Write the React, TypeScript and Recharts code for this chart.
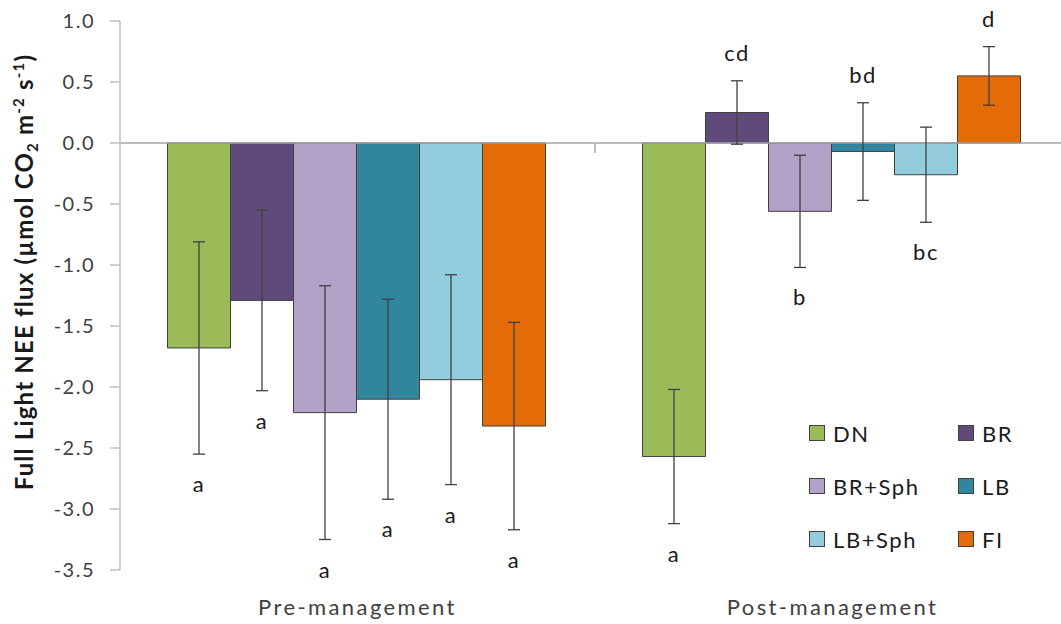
import type { ReactElement } from "react";
import { BarChart, Bar, XAxis, YAxis, ErrorBar, LabelList, ReferenceLine } from "recharts";

const groups = ["Pre-management", "Post-management"];
const treatments = ["DN", "BR", "BR+Sph", "LB", "LB+Sph", "FI"];
const preMean = [-1.68, -1.29, -2.21, -2.1, -1.94, -2.32];
const preErr = [0.87, 0.74, 1.04, 0.82, 0.86, 0.85];
const postMean = [-2.57, 0.25, -0.56, -0.07, -0.26, 0.55];
const postErr = [0.55, 0.26, 0.46, 0.4, 0.39, 0.24];
const preLetters = ["a", "a", "a", "a", "a", "a"];
const postLetters = ["a", "cd", "b", "bd", "bc", "d"];
// whether the letter sits above the error bar
const preLetterAbove = [false, false, false, false, false, false];
const postLetterAbove = [false, true, false, true, false, true];
const yTicks = [1.0, 0.5, 0.0, -0.5, -1.0, -1.5, -2.0, -2.5, -3.0, -3.5];

const COLORS = ["#9bbb59", "#604a7b", "#b3a2c7", "#31859c", "#93cddd", "#e36c09"];
const FONT = "Lato, 'Open Sans', sans-serif";

const W = 1080;
const H = 624;
const MARGIN = { top: 21, right: 10, bottom: 0, left: 0 };
const X_AXIS_H = 54;
const Y_MIN = -3.5;
const Y_MAX = 1;
const PLOT_H = H - MARGIN.top - MARGIN.bottom - X_AXIS_H;

const means = [preMean, postMean];
const errs = [preErr, postErr];
const letters = [preLetters, postLetters];
const above = [preLetterAbove, postLetterAbove];

const data = groups.map((g, gi) => {
    const row: Record<string, string | number | boolean> = { group: g };
    treatments.forEach((t, ti) => {
        row[t] = means[gi][ti];
        row[`${t}_err`] = errs[gi][ti];
        row[`${t}_lt`] = letters[gi][ti];
    });
    return row;
});

// same linear mapping as the y axis (domain -3.5..1 over the plot height)
const toY = (v: number) => MARGIN.top + ((Y_MAX - v) / (Y_MAX - Y_MIN)) * PLOT_H;

function letterRenderer(ti: number) {
    return (props: any) => {
        const { x, width, index, value } = props;
        const m = means[index][ti];
        const e = errs[index][ti];
        const isAbove = above[index][ti];
        const cx = Number(x) + Number(width) / 2;
        const y = isAbove ? toY(m + e) - 20 : toY(m - e) + 38;
        return (
            <text x={cx} y={y} textAnchor="middle" fontSize={22} fontFamily={FONT} fill="#1a1a1a" letterSpacing={1.5}>
                {value}
            </text>
        );
    };
}

function GroupTick(props: any) {
    const { x, y, payload } = props;
    return (
        <text x={x} y={y} dy={37} textAnchor="middle" fontSize={22} fontFamily={FONT} fill="#404040" letterSpacing={2.4}>
            {payload.value}
        </text>
    );
}

function ZeroLine(props: any) {
    const { x1, y1, x2, y2 } = props;
    const mid = (x1 + x2) / 2;
    return (
        <g>
            <line x1={x1} y1={y1} x2={x2} y2={y2} stroke="#a6a6a6" strokeWidth={1.5} />
            <line x1={mid} y1={y1} x2={mid} y2={y1 + 10} stroke="#a6a6a6" strokeWidth={1.5} />
        </g>
    );
}

function YLabel() {
    return (
        <text
            transform="translate(33, 272) rotate(-90)"
            textAnchor="middle"
            fontSize={24}
            fontWeight="bold"
            fontFamily={FONT}
            fill="#1a1a1a"
            letterSpacing={1.2}
        >
            <tspan>Full Light NEE flux (µmol CO</tspan>
            <tspan fontSize={15} dy={5}>2</tspan>
            <tspan dy={-5}> m</tspan>
            <tspan fontSize={15} dy={-9}>-2</tspan>
            <tspan dy={9}> s</tspan>
            <tspan fontSize={15} dy={-9}>-1</tspan>
            <tspan dy={9}>)</tspan>
        </text>
    );
}

function ChartLegend(): ReactElement {
    return (
        <div style={{ position: "absolute", left: 809, top: 419, width: 240, display: "grid", gridTemplateColumns: "149px 91px", rowGap: 25, fontFamily: FONT }}>
            {treatments.map((t, i) => (
                <div key={t} style={{ display: "flex", alignItems: "center", height: 28 }}>
                    <span style={{ width: 14, height: 14, background: COLORS[i], border: "1px solid #404040", display: "inline-block" }} />
                    <span style={{ marginLeft: 8, fontSize: 22, color: "#1a1a1a", letterSpacing: 1.6 }}>{t}</span>
                </div>
            ))}
        </div>
    );
}

export default function App(): ReactElement {
    return (
        <div style={{ position: "absolute", left: 0, top: 0, width: 1061, height: 624, overflow: "hidden", background: "#fff" }}>
            <BarChart width={W} height={H} data={data} margin={MARGIN} barGap={0} barCategoryGap="10%">
                <XAxis dataKey="group" height={X_AXIS_H} axisLine={false} tickLine={false} tick={GroupTick} interval={0} />
                <YAxis
                    domain={[Y_MIN, Y_MAX]}
                    ticks={yTicks}
                    allowDataOverflow
                    width={120}
                    tickSize={10}
                    tickMargin={15}
                    tickFormatter={(v: number) => v.toFixed(1)}
                    axisLine={{ stroke: "#bfbfbf", strokeWidth: 1.5 }}
                    tickLine={{ stroke: "#bfbfbf", strokeWidth: 1.5 }}
                    tick={{ fill: "#404040", fontSize: 20, fontFamily: FONT, letterSpacing: 1.5 }}
                    label={{ content: YLabel }}
                />
                <ReferenceLine y={0} shape={ZeroLine} />
                {treatments.map((t, i) => (
                    <Bar key={t} dataKey={t} fill={COLORS[i]} stroke="#404040" strokeWidth={1} isAnimationActive={false}>
                        <ErrorBar dataKey={`${t}_err`} width={6} stroke="#404040" strokeWidth={1.3} direction="y" />
                        <LabelList dataKey={`${t}_lt`} content={letterRenderer(i)} />
                    </Bar>
                ))}
            </BarChart>
            <ChartLegend />
        </div>
    );
}
